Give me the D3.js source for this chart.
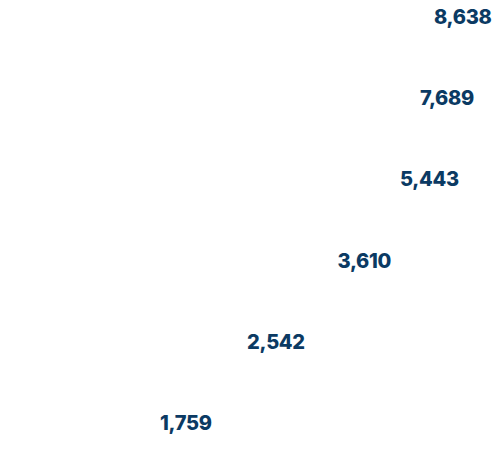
<!DOCTYPE html>
<html>
<head>
<meta charset="utf-8">
<script src="https://cdn.jsdelivr.net/npm/d3@7"></script>
<style>
  body { margin: 0; background: #fff; }
</style>
</head>
<body>
<div id="chart"></div>
<script>
// values shown on the chart, top to bottom
const values = [8638, 7689, 5443, 3610, 2542, 1759];
// horizontal position measure (percent of width) each label sits at
const shares = [86.8, 84.0, 80.0, 67.5, 49.4, 32.0];

const width = 502;
const height = 452;

const svg = d3.select("#chart")
    .append("svg")
    .attr("width", width)
    .attr("height", height);

const x = d3.scaleLinear()
    .domain([0, 100])
    .range([0, 500]);

// baselines of first and last row
const y = d3.scalePoint()
    .domain(d3.range(values.length))
    .range([24, 430]);

const fmt = d3.format(",");

svg.selectAll("text.value")
    .data(values)
    .join("text")
    .attr("class", "value")
    .attr("x", (d, i) => x(shares[i]))
    .attr("y", (d, i) => y(i))
    .attr("fill", "#0b3a63")
    .attr("font-family", "Inter, 'Noto Sans', sans-serif")
    .attr("font-weight", 800)
    .attr("font-size", "20px")
    .attr("letter-spacing", "-0.3px")
    .text(d => fmt(d));
</script>
</body>
</html>
